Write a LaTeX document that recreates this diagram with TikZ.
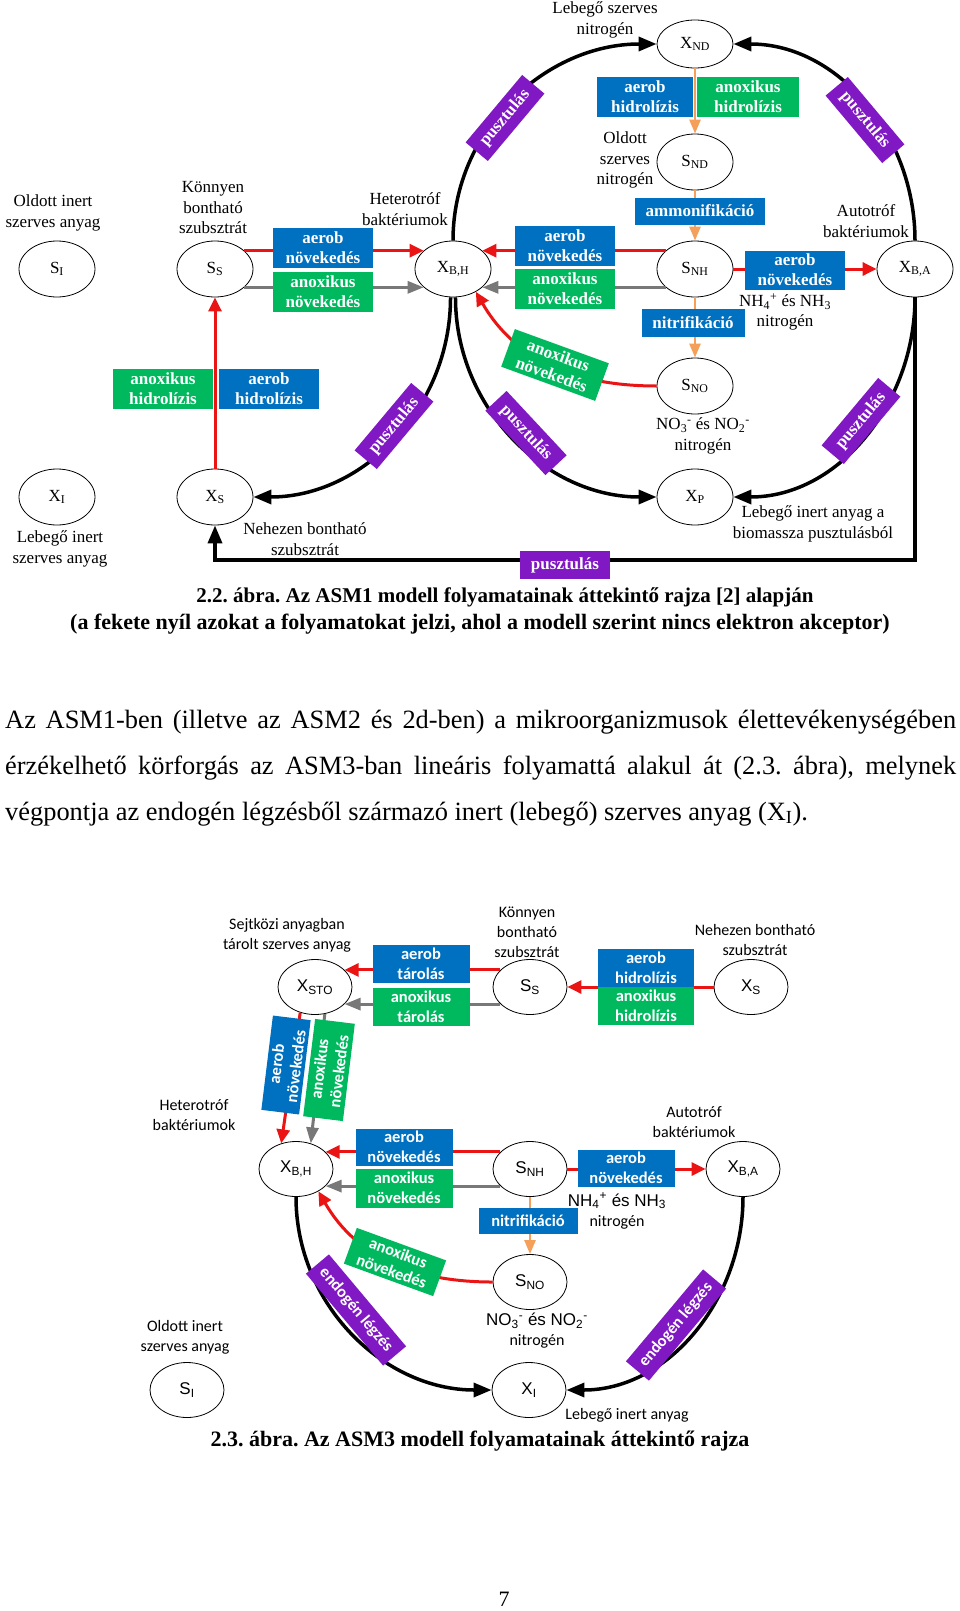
\documentclass[tikz,border=0pt]{standalone}
\usepackage{fontspec}
\setmainfont{Liberation Serif}
\newfontfamily\carlito{Carlito}
\newfontfamily\arialf{Liberation Sans}
\usetikzlibrary{shapes.geometric,arrows.meta}
\definecolor{kek}{RGB}{0,112,192}
\definecolor{zold}{RGB}{0,185,95}
\definecolor{lila}{RGB}{128,24,196}
\definecolor{piros}{RGB}{235,20,20}
\definecolor{szurke}{RGB}{120,120,120}
\definecolor{narancs}{RGB}{245,160,90}
\frenchspacing
\newcommand{\ix}[1]{\textsubscript{#1}}
\tikzset{
    allapot/.style={ellipse, draw, line width=0.8pt, minimum width=76pt, minimum height=56pt, inner sep=0pt},
    allapotb/.style={allapot, minimum width=74pt, minimum height=55pt, font=\arialf\fontsize{17}{20}\selectfont},
    felirat/.style={align=center, inner sep=0pt},
    doboz/.style={text=white, align=center, inner sep=0pt, minimum width=100pt, minimum height=40pt, font=\fontsize{17}{20}\selectfont\bfseries},
    dobozb/.style={doboz, minimum width=97pt, minimum height=38pt, font=\carlito\fontsize{16.5}{19.5}\selectfont\bfseries},
    fekete/.style={draw=black, line width=3.5pt, -{Triangle[length=18pt,width=14pt]}},
    piros/.style={draw=piros, line width=3pt, -{Triangle[length=14pt,width=13pt]}},
    szurke/.style={draw=szurke, line width=3pt, -{Triangle[length=16pt,width=12pt]}},
    narancs/.style={draw=narancs, line width=2.5pt, -{Triangle[length=14pt,width=11pt]}}
}
\begin{document}
\begin{tikzpicture}[x=1pt, y=1pt, font=\fontsize{17}{20.5}\selectfont]
    \fill[white] (0,0) rectangle (960,-1611);
    \useasboundingbox (0,0) rectangle (960,-1611);
    % ASM1
    \node[allapot] (si) at (57,-269) {S\ix{I}};
    \node[allapot] (ss) at (215,-269) {S\ix{S}};
    \node[allapot] (xbh) at (453,-269) {X\ix{B,H}};
    \node[allapot, minimum height=48pt] (xnd) at (695,-44) {X\ix{ND}};
    \node[allapot] (snd) at (695,-162) {S\ix{ND}};
    \node[allapot] (snh) at (695,-269) {S\ix{NH}};
    \node[allapot] (xba) at (915,-269) {X\ix{B,A}};
    \node[allapot] (sno) at (695,-386) {S\ix{NO}};
    \node[allapot] (xi) at (57,-497) {X\ix{I}};
    \node[allapot] (xs) at (215,-497) {X\ix{S}};
    \node[allapot] (xp) at (695,-497) {X\ix{P}};
    \coordinate (sarok) at (915,-560);

    \node[felirat] (t1) at (605,-20) {Lebegő szerves\\nitrogén};
    \node[felirat] (t2) at (53,-213) {Oldott inert\\szerves anyag};
    \node[felirat] (t3) at (213,-208) {Könnyen\\bontható\\szubsztrát};
    \node[felirat] (t4) at (405,-209) {Heterotróf\\baktériumok};
    \node[felirat] (t5) at (625,-160) {Oldott\\szerves\\nitrogén};
    \node[felirat] (t6) at (866,-221) {Autotróf\\baktériumok};
    \node[felirat] (t7) at (785,-312) {NH\ix{4}\textsuperscript{+} és NH\ix{3}\\nitrogén};
    \node[felirat] (t8) at (703,-436) {NO\ix{3}\textsuperscript{-} és NO\ix{2}\textsuperscript{-}\\nitrogén};
    \node[felirat] (t9) at (60,-549) {Lebegő inert\\szerves anyag};
    \node[felirat] (t10) at (305,-539) {Nehezen bontható\\szubsztrát};
    \node[felirat] (t11) at (813,-524) {Lebegő inert anyag a\\biomassza pusztulásból};

    \draw[fekete] (xbh.north) to[out=90,in=180] (xnd.west);
    \draw[fekete] (xba.north) to[out=90,in=0] (xnd.east);
    \draw[fekete] (xbh.-85) to[out=-90,in=180] (xp.west);
    \draw[fekete] (xba.south) to[out=-90,in=0] (xp.east);
    \draw[fekete] (xbh.-95) to[out=-90,in=0] (xs.east);
    \draw[fekete] (xba.south) -- (sarok) -| (xs.south);

    \draw[piros] (ss.32) -- (xbh.148);
    \draw[szurke] (ss.-32) -- (xbh.-148);
    \draw[piros] (snh.148) -- (xbh.32);
    \draw[szurke] (snh.-148) -- (xbh.-32);
    \draw[piros] (snh.east) -- (xba.west);
    \draw[piros] (xs.north) -- (ss.south);
    \draw[piros] (sno.west) to[out=180,in=-60] (xbh.-45);
    \draw[narancs] (xnd.south) -- (snd.north);
    \draw[narancs] (snd.south) -- (snh.north);
    \draw[narancs] (snh.south) -- (sno.north);

    \node[doboz, fill=kek] (kb1) at (323,-248) {aerob\\növekedés};
    \node[doboz, fill=zold] (zb1) at (323,-292) {anoxikus\\növekedés};
    \node[doboz, fill=kek, minimum width=96pt] (kb2) at (645,-97) {aerob\\hidrolízis};
    \node[doboz, fill=zold, minimum width=102pt] (zb2) at (748,-97) {anoxikus\\hidrolízis};
    \node[doboz, fill=kek, minimum width=130pt, minimum height=27pt] (kb3) at (700,-211) {ammonifikáció};
    \node[doboz, fill=kek] (kb4) at (565,-246) {aerob\\növekedés};
    \node[doboz, fill=zold] (zb3) at (565,-289) {anoxikus\\növekedés};
    \node[doboz, fill=kek, minimum height=39pt] (kb5) at (795,-270) {aerob\\növekedés};
    \node[doboz, fill=kek, minimum width=103pt, minimum height=28pt] (kb6) at (693,-323) {nitrifikáció};
    \node[doboz, fill=zold, rotate=-20] (zb4) at (555,-365) {anoxikus\\növekedés};
    \node[doboz, fill=zold] (zb5) at (163,-389) {anoxikus\\hidrolízis};
    \node[doboz, fill=kek] (kb7) at (269,-389) {aerob\\hidrolízis};
    \node[doboz, fill=lila, minimum width=90pt, minimum height=28pt] (p0) at (565,-565) {pusztulás};
    \foreach \x/\y/\r/\n in {505/118/50/1, 865/120/-50/2, 394/426/50/3, 526/433/-47/4, 861/421/50/5}
        \node[doboz, fill=lila, minimum width=88pt, minimum height=29pt, rotate=\r] (p\n) at (\x,-\y) {pusztulás};

    \node[font=\fontsize{21}{24}\selectfont\bfseries] (cim1) at (505,-597) {2.2. ábra. Az ASM1 modell folyamatainak áttekintő rajza [2] alapján};
    \node[font=\fontsize{22}{26}\selectfont\bfseries] (cim2) at (480,-624) {(a fekete nyíl azokat a folyamatokat jelzi, ahol a modell szerint nincs elektron akceptor)};

    \node[anchor=base west, inner sep=0pt, font=\fontsize{26.4}{30}\selectfont] (sor1) at (5,-728) {\makebox[951pt][s]{Az ASM1-ben (illetve az ASM2 és 2d-ben) a mikroorganizmusok élettevékenységében}};
    \node[anchor=base west, inner sep=0pt, font=\fontsize{26.4}{30}\selectfont] (sor2) at (5,-774) {\makebox[951pt][s]{érzékelhető körforgás az ASM3-ban lineáris folyamattá alakul át (2.3. ábra), melynek}};
    \node[anchor=base west, inner sep=0pt, font=\fontsize{26.4}{30}\selectfont] (sor3) at (5,-820) {végpontja az endogén légzésből származó inert (lebegő) szerves anyag (X\ix{I}).};

    % ASM3
    \node[allapotb] (xsto) at (315,-987) {X\ix{STO}};
    \node[allapotb] (ssb) at (530,-987) {S\ix{S}};
    \node[allapotb] (xsb) at (751,-987) {X\ix{S}};
    \node[allapotb] (xbhb) at (296,-1169) {X\ix{B,H}};
    \node[allapotb] (snhb) at (530,-1169) {S\ix{NH}};
    \node[allapotb] (xbab) at (743,-1169) {X\ix{B,A}};
    \node[allapotb] (snob) at (530,-1282) {S\ix{NO}};
    \node[allapotb] (sib) at (187,-1390) {S\ix{I}};
    \node[allapotb] (xib) at (529,-1390) {X\ix{I}};

    \begin{scope}[font=\carlito\fontsize{16}{20}\selectfont]
    \node[felirat] (u1) at (287,-935) {Sejtközi anyagban\\tárolt szerves anyag};
    \node[felirat] (u2) at (527,-932) {Könnyen\\bontható\\szubsztrát};
    \node[felirat] (u3) at (755,-940) {Nehezen bontható\\szubsztrát};
    \node[felirat] (u4) at (194,-1115) {Heterotróf\\baktériumok};
    \node[felirat] (u5) at (694,-1122) {Autotróf\\baktériumok};
    \node[felirat] (u6) at (617,-1211) {{\arialf\fontsize{17}{20}\selectfont NH\ix{4}\textsuperscript{+} és NH\ix{3}}\\nitrogén};
    \node[felirat] (u7) at (537,-1331) {{\arialf\fontsize{17}{20}\selectfont NO\ix{3}\textsuperscript{-} és NO\ix{2}\textsuperscript{-}}\\nitrogén};
    \node[felirat] (u8) at (185,-1337) {Oldott inert\\szerves anyag};
    \node[felirat] (u9) at (627,-1415) {Lebegő inert anyag};
    \end{scope}

    \draw[fekete] (xbhb.south) to[out=-90,in=180] (xib.west);
    \draw[fekete] (xbab.south) to[out=-90,in=0] (xib.east);

    \draw[piros] (ssb.150) -- (xsto.30);
    \draw[szurke] (ssb.-150) -- (xsto.-30);
    \draw[piros] (xsb.west) -- (ssb.east);
    \draw[piros] (xsto.-120) -- (xbhb.120);
    \draw[szurke] (xsto.-70) -- (xbhb.60);
    \draw[piros] (snhb.150) -- (xbhb.30);
    \draw[szurke] (snhb.-150) -- (xbhb.-30);
    \draw[piros] (snhb.east) -- (xbab.west);
    \draw[narancs] (snhb.south) -- (snob.north);
    \draw[piros] (snob.west) to[out=180,in=-60] (xbhb.-45);

    \node[dobozb, fill=kek] (kt) at (421,-964) {aerob\\tárolás};
    \node[dobozb, fill=zold] (zt) at (421,-1007) {anoxikus\\tárolás};
    \node[dobozb, fill=kek, minimum width=96pt] (kh) at (646,-968) {aerob\\hidrolízis};
    \node[dobozb, fill=zold, minimum width=96pt] (zh) at (646,-1006) {anoxikus\\hidrolízis};
    \node[dobozb, fill=kek, minimum width=95pt, rotate=83] (kn1) at (286,-1065) {aerob\\növekedés};
    \node[dobozb, fill=zold, minimum width=98pt, minimum height=40pt, rotate=83] (zn1) at (329,-1070) {anoxikus\\növekedés};
    \node[dobozb, fill=kek, minimum height=37pt] (kn2) at (404,-1147) {aerob\\növekedés};
    \node[dobozb, fill=zold, minimum height=39pt] (zn2) at (404,-1188) {anoxikus\\növekedés};
    \node[dobozb, fill=kek, minimum height=37pt] (kn3) at (626,-1168) {aerob\\növekedés};
    \node[dobozb, fill=kek, minimum width=99pt, minimum height=26pt] (kni) at (528,-1221) {nitrifikáció};
    \node[dobozb, fill=zold, minimum width=95pt, rotate=-20] (zn3) at (395,-1262) {anoxikus\\növekedés};
    \node[dobozb, fill=lila, minimum width=120pt, minimum height=30pt, rotate=-50] (e1) at (356,-1310) {endogén légzés};
    \node[dobozb, fill=lila, minimum width=120pt, minimum height=30pt, rotate=50] (e2) at (676,-1325) {endogén légzés};

    \node[font=\fontsize{22}{26}\selectfont\bfseries] (cim3) at (480,-1441) {2.3. ábra. Az ASM3 modell folyamatainak áttekintő rajza};
    \node[font=\fontsize{22}{26}\selectfont] (oldal) at (504,-1599) {7};
\end{tikzpicture}
\end{document}
